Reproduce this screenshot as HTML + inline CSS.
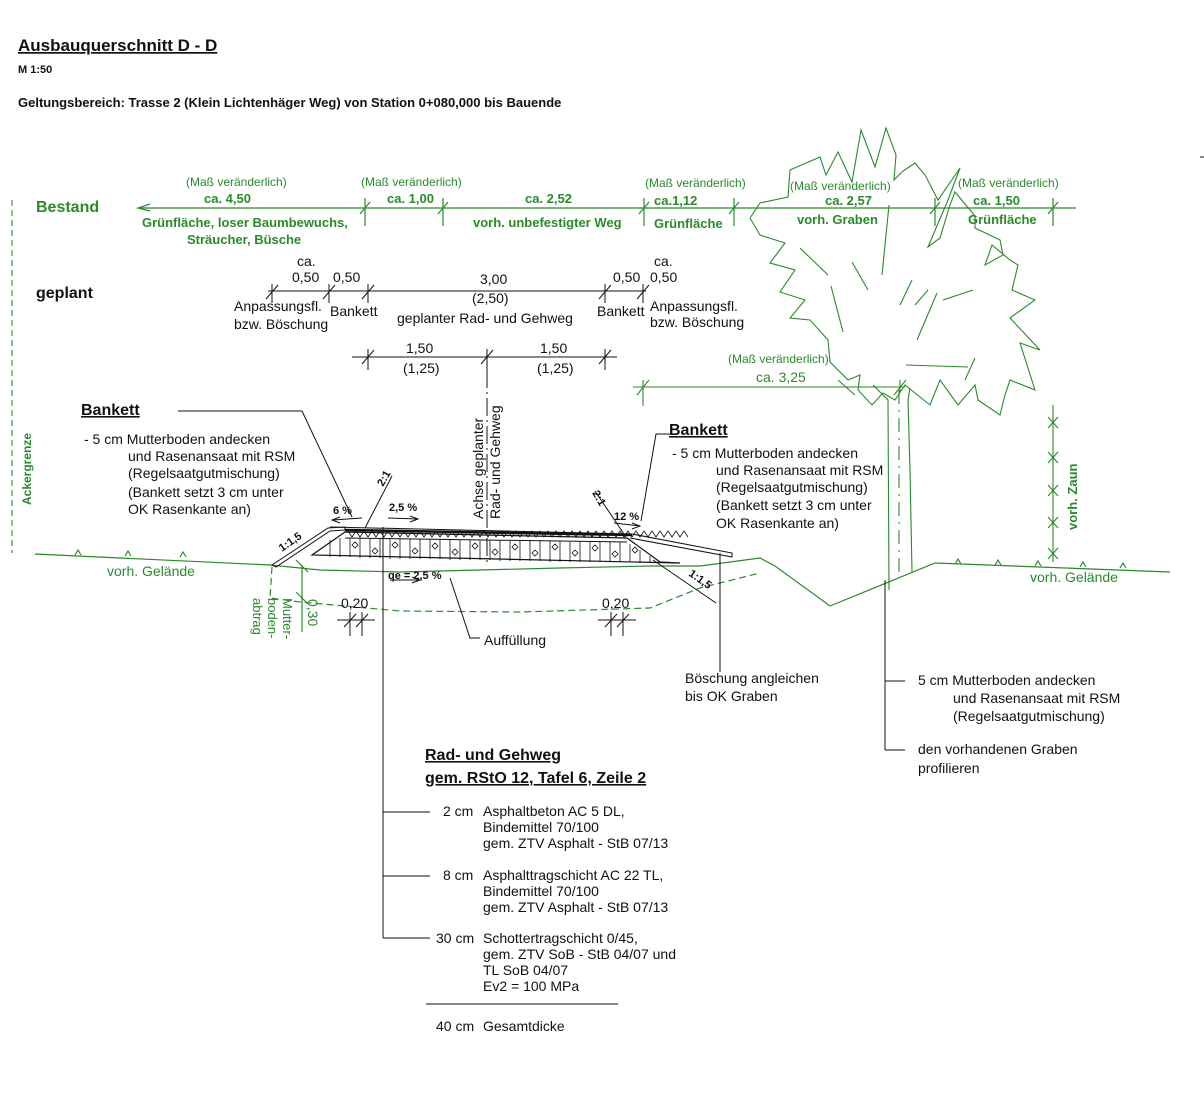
<!DOCTYPE html>
<html><head><meta charset="utf-8"><style>
html,body{margin:0;padding:0;background:#fff;}
svg{display:block;font-family:"Liberation Sans",sans-serif;}
.g{fill:#2a8a2a;}
.k{fill:#111;}
</style></head><body>
<svg width="1204" height="1116" viewBox="0 0 1204 1116" xmlns="http://www.w3.org/2000/svg">
<!-- Header -->
<text x="18" y="51" font-size="17" font-weight="bold" class="k" text-decoration="underline">Ausbauquerschnitt D - D</text>
<text x="18" y="73" font-size="11" font-weight="bold" class="k">M 1:50</text>
<text x="18" y="107" font-size="13" font-weight="bold" class="k">Geltungsbereich: Trasse 2 (Klein Lichtenhäger Weg) von Station 0+080,000 bis Bauende</text>

<!-- Bestand -->
<g stroke="#2a8a2a" stroke-width="1.2" fill="none">
<line x1="138" y1="208" x2="1076" y2="208"/>
<polyline points="150,204 138,208 150,211"/>
<line x1="365" y1="198" x2="365" y2="226"/><line x1="360" y1="214" x2="370" y2="202"/>
<line x1="443" y1="198" x2="443" y2="226"/><line x1="438" y1="214" x2="448" y2="202"/>
<line x1="644" y1="198" x2="644" y2="226"/><line x1="639" y1="214" x2="649" y2="202"/>
<line x1="734" y1="198" x2="734" y2="226"/><line x1="729" y1="214" x2="739" y2="202"/>
<line x1="935" y1="198" x2="935" y2="226"/><line x1="930" y1="214" x2="940" y2="202"/>
<line x1="1053" y1="198" x2="1053" y2="226"/><line x1="1048" y1="214" x2="1058" y2="202"/>
</g>
<text x="36" y="212" font-size="16" font-weight="bold" class="g">Bestand</text>
<g font-size="12" class="g">
<text x="186" y="186">(Maß veränderlich)</text>
<text x="361" y="186">(Maß veränderlich)</text>
<text x="645" y="187">(Maß veränderlich)</text>
<text x="790" y="190">(Maß veränderlich)</text>
<text x="958" y="187">(Maß veränderlich)</text>
</g>
<g font-size="13" font-weight="bold" class="g">
<text x="204" y="203">ca. 4,50</text>
<text x="387" y="203">ca. 1,00</text>
<text x="525" y="203">ca. 2,52</text>
<text x="654" y="205">ca.1,12</text>
<text x="825" y="205">ca. 2,57</text>
<text x="973" y="205">ca. 1,50</text>
<text x="142" y="227">Grünfläche, loser Baumbewuchs,</text>
<text x="187" y="244">Sträucher, Büsche</text>
<text x="473" y="227">vorh. unbefestigter Weg</text>
<text x="654" y="228">Grünfläche</text>
<text x="797" y="224">vorh. Graben</text>
<text x="968" y="224">Grünfläche</text>
</g>

<!-- geplant -->
<text x="36" y="298" font-size="16" font-weight="bold" class="k">geplant</text>
<g stroke="#111" stroke-width="1" fill="none">
<line x1="268" y1="291" x2="646" y2="291"/>
<line x1="272" y1="284" x2="272" y2="303"/><line x1="266" y1="299" x2="278" y2="285"/>
<line x1="329" y1="284" x2="329" y2="303"/><line x1="323" y1="299" x2="335" y2="285"/>
<line x1="368" y1="284" x2="368" y2="303"/><line x1="362" y1="299" x2="374" y2="285"/>
<line x1="605" y1="284" x2="605" y2="303"/><line x1="599" y1="299" x2="611" y2="285"/>
<line x1="643" y1="284" x2="643" y2="303"/><line x1="637" y1="299" x2="649" y2="285"/>
<line x1="352" y1="357" x2="617" y2="357"/>
<line x1="368" y1="349" x2="368" y2="370"/><line x1="362" y1="364" x2="374" y2="350"/>
<line x1="487" y1="349" x2="487" y2="370"/><line x1="481" y1="364" x2="493" y2="350"/>
<line x1="605" y1="349" x2="605" y2="370"/><line x1="599" y1="364" x2="611" y2="350"/>
</g>
<g font-size="14" class="k">
<text x="297" y="266">ca.</text>
<text x="292" y="282">0,50</text><text x="333" y="282">0,50</text>
<text x="480" y="284">3,00</text>
<text x="472" y="303">(2,50)</text>
<text x="234" y="311">Anpassungsfl.</text>
<text x="234" y="329">bzw. Böschung</text>
<text x="330" y="316">Bankett</text>
<text x="397" y="323">geplanter Rad- und Gehweg</text>
<text x="597" y="316">Bankett</text>
<text x="613" y="282">0,50</text><text x="650" y="282">0,50</text>
<text x="654" y="266">ca.</text>
<text x="650" y="311">Anpassungsfl.</text>
<text x="650" y="327">bzw. Böschung</text>
<text x="406" y="353">1,50</text>
<text x="540" y="353">1,50</text>
<text x="403" y="373">(1,25)</text>
<text x="537" y="373">(1,25)</text>
</g>

<!-- Tree -->
<g stroke="#2a8a2a" stroke-width="1.1" fill="none">
<polyline points="750,218 760,203 788,197 790,170 820,157 826,175 838,152 852,182 861,130 875,167 886,128 896,155 894,180 903,171 915,163 925,175 938,200 960,168 948,200 928,247 940,238 950,205 955,192 975,216 975,228 1000,240 1003,255 985,265 992,245 1010,260 1018,265 1012,290 1035,300 1010,318 1040,350 1020,343 1035,390 1010,380 1005,395 1000,415 978,400 975,385 958,405 940,380 930,405 905,385 895,400 883,393 872,405 858,390 860,375 848,380 830,362 828,340 810,320 790,318 805,300 780,292 795,270 770,263 785,243 760,235 750,218"/>
<line x1="800" y1="248" x2="828" y2="275"/><line x1="852" y1="262" x2="868" y2="290"/>
<line x1="889" y1="205" x2="882" y2="275"/><line x1="912" y1="280" x2="900" y2="305"/>
<line x1="928" y1="290" x2="915" y2="305"/><line x1="937" y1="293" x2="917" y2="340"/>
<line x1="906" y1="365" x2="968" y2="367"/><line x1="838" y1="380" x2="855" y2="395"/>
<line x1="831" y1="286" x2="843" y2="332"/><line x1="973" y1="290" x2="943" y2="300"/>
<line x1="965" y1="380" x2="975" y2="358"/>
<polyline points="873,385 888,400 889,590"/>
<polyline points="910,388 908,400 910,470 912,572"/>
<line x1="899" y1="390" x2="899" y2="575" stroke-dasharray="14,6,2,6"/>
<line x1="633" y1="387" x2="905" y2="387"/>
<line x1="643" y1="380" x2="643" y2="406"/><line x1="637" y1="395" x2="649" y2="380"/>
<line x1="900" y1="380" x2="900" y2="392"/><line x1="894" y1="395" x2="906" y2="380"/>
</g>
<text x="728" y="363" font-size="12" class="g">(Maß veränderlich)</text>
<text x="756" y="382" font-size="14" class="g">ca. 3,25</text>

<!-- Ackergrenze -->
<line x1="12" y1="200" x2="12" y2="553" stroke="#2a8a2a" stroke-width="1.1" stroke-dasharray="6,4"/>
<text transform="translate(31,505) rotate(-90)" font-size="12" font-weight="bold" class="g">Ackergrenze</text>

<!-- Zaun -->
<g stroke="#2a8a2a" stroke-width="1.1">
<line x1="1053" y1="405" x2="1053" y2="562"/>
<line x1="1048" y1="417" x2="1058" y2="428"/><line x1="1058" y1="417" x2="1048" y2="428"/>
<line x1="1048" y1="452" x2="1058" y2="463"/><line x1="1058" y1="452" x2="1048" y2="463"/>
<line x1="1048" y1="485" x2="1058" y2="496"/><line x1="1058" y1="485" x2="1048" y2="496"/>
<line x1="1048" y1="517" x2="1058" y2="528"/><line x1="1058" y1="517" x2="1048" y2="528"/>
<line x1="1048" y1="548" x2="1058" y2="559"/><line x1="1058" y1="548" x2="1048" y2="559"/>
</g>
<text transform="translate(1077,530) rotate(-90)" font-size="13" font-weight="bold" class="g">vorh. Zaun</text>

<!-- Ground -->
<g stroke="#2a8a2a" stroke-width="1.2" fill="none">
<polyline points="35,554 270,565 320,570 400,572 480,570 560,568 650,566 700,566 760,558 775,566 830,606 935,563 1170,572"/>
<polyline points="272,567 270,598 300,602 400,611 520,612 650,608 700,588 760,573" stroke-dasharray="7,4"/>
<line x1="302" y1="565" x2="302" y2="632"/>
<line x1="296" y1="560" x2="308" y2="572"/><line x1="296" y1="592" x2="308" y2="604"/>
<path d="M75 555 l3 -5 3 5 M125 556 l3 -5 3 5 M180 557 l3 -5 3 5 M955 564 l3 -5 3 5 M995 565 l3 -5 3 5 M1035 566 l3 -5 3 5 M1080 567 l3 -5 3 5 M1120 568 l3 -5 3 5"/>
</g>
<text x="107" y="576" font-size="14" class="g">vorh. Gelände</text>
<text x="1030" y="582" font-size="14" class="g">vorh. Gelände</text>
<text transform="translate(308,599) rotate(90)" font-size="14" class="g">0,30</text>
<g font-size="13" class="g">
<text transform="translate(283,598) rotate(90)">Mutter-</text>
<text transform="translate(268,598) rotate(90)">boden-</text>
<text transform="translate(253,598) rotate(90)">abtrag</text>
</g>

<!-- Road body -->
<g stroke="#111" fill="none" stroke-width="1">
<polygon points="272,565 328,528 345,527 345,530 330,531 276,567"/>
<polyline points="330,527 632,534 732,553 732,557 630,538"/>
<line x1="345" y1="530" x2="632" y2="535" stroke-width="2.5"/>
<polygon points="312,555 345,532 627,538 660,562 680,563" stroke-width="1.2"/>
<line x1="345" y1="538" x2="627" y2="542"/>
<path d="M348 531 l4 6 4 -6 4 6 4 -6 4 6 4 -6 4 6 4 -6 4 6 4 -6 4 6 4 -6 4 6 4 -6 4 6 4 -6 4 6 4 -6 4 6 4 -6 4 6 4 -6 4 6 4 -6 4 6 4 -6 4 6 4 -6 4 6 4 -6 4 6 4 -6 4 6 4 -6 4 6 4 -6 4 6 4 -6 4 6 4 -6 4 6 4 -6 4 6 4 -6 4 6 4 -6 4 6 4 -6 4 6 4 -6 4 6 4 -6 4 6 4 -6 4 6 4 -6 4 6 4 -6 4 6 4 -6 4 6 4 -6 4 6 4 -6 4 6 4 -6 4 6 4 -6 4 6 4 -6 4 6 4 -6 4 6 4 -6 4 6 4 -6 4 6 4 -6 4 6 4 -6 4 6 4 -6 4 6 4 -6 4 6" stroke-width="0.8"/>
<path d="M330 540v17 M340 538v19 M350 538v19 M360 538v20 M370 538v20 M380 538v20 M390 539v20 M400 539v20 M410 539v20 M420 539v20 M430 539v20 M440 539v20 M450 540v20 M460 540v20 M470 540v20 M480 540v20 M490 540v20 M500 540v21 M510 541v20 M520 541v20 M530 541v20 M540 541v20 M550 541v21 M560 541v21 M570 542v20 M580 542v20 M590 542v20 M600 542v20 M610 542v20 M620 542v20 M630 544v18 M640 550v13 M650 556v7" stroke-width="0.8"/>
<g stroke-width="0.8">
<path d="M352 545l3 -3 3 3 -3 3z M372 551l3 -3 3 3 -3 3z M392 545l3 -3 3 3 -3 3z M412 551l3 -3 3 3 -3 3z M432 546l3 -3 3 3 -3 3z M452 552l3 -3 3 3 -3 3z M472 546l3 -3 3 3 -3 3z M492 552l3 -3 3 3 -3 3z M512 547l3 -3 3 3 -3 3z M532 553l3 -3 3 3 -3 3z M552 547l3 -3 3 3 -3 3z M572 553l3 -3 3 3 -3 3z M592 548l3 -3 3 3 -3 3z M612 554l3 -3 3 3 -3 3z M632 550l3 -3 3 3 -3 3z"/>
</g>
<line x1="487" y1="370" x2="487" y2="565" stroke-dasharray="18,4,2,4"/>
<line x1="365" y1="528" x2="392" y2="476"/>
<line x1="626" y1="537" x2="595" y2="491"/>
<line x1="653" y1="560" x2="716" y2="603"/>
<line x1="333" y1="520" x2="362" y2="518"/><polyline points="340,517 332,520 340,523"/>
<line x1="388" y1="518" x2="418" y2="519"/><polyline points="410,516 418,519 410,522"/>
<line x1="390" y1="580" x2="420" y2="580"/><polyline points="412,577 420,580 412,583"/>
<line x1="614" y1="523" x2="640" y2="526"/><polyline points="632,523 640,526 632,529"/>
<polyline points="178,411 302,411 352,517"/>
<polyline points="670,434 656,434 641,521"/>
<polyline points="450,578 470,638 480,638"/>
<line x1="720" y1="553" x2="720" y2="672"/>
<line x1="885" y1="580" x2="885" y2="750"/>
<line x1="885" y1="681" x2="905" y2="681"/>
<line x1="885" y1="750" x2="905" y2="750"/>
<line x1="337" y1="620" x2="375" y2="620"/>
<line x1="350" y1="612" x2="350" y2="636"/><line x1="344" y1="627" x2="356" y2="614"/>
<line x1="362" y1="612" x2="362" y2="636"/><line x1="356" y1="627" x2="368" y2="614"/>
<line x1="598" y1="620" x2="636" y2="620"/>
<line x1="611" y1="612" x2="611" y2="636"/><line x1="605" y1="627" x2="617" y2="614"/>
<line x1="623" y1="612" x2="623" y2="636"/><line x1="617" y1="627" x2="629" y2="614"/>
<line x1="383" y1="527" x2="383" y2="938"/>
<line x1="383" y1="812" x2="430" y2="812"/>
<line x1="383" y1="876" x2="430" y2="876"/>
<line x1="383" y1="938" x2="430" y2="938"/>
<line x1="426" y1="1004" x2="618" y2="1004"/>
</g>
<g font-size="11" font-weight="bold" class="k">
<text x="333" y="514">6 %</text>
<text x="389" y="511">2,5 %</text>
<text x="614" y="520">12 %</text>
<text x="388" y="579">qe = 2,5 %</text>
<text transform="translate(383,487) rotate(-60)">2:1</text>
<text transform="translate(592,493) rotate(60)">2:1</text>
<text transform="translate(282,552) rotate(-35)">1:1,5</text>
<text transform="translate(688,575) rotate(35)">1:1,5</text>
</g>
<g font-size="14" class="k">
<text transform="translate(483,519) rotate(-90)">Achse geplanter</text>
<text transform="translate(500,519) rotate(-90)">Rad- und Gehweg</text>
<text x="341" y="608">0,20</text>
<text x="602" y="608">0,20</text>
<text x="484" y="645">Auffüllung</text>
<text x="685" y="683">Böschung angleichen</text>
<text x="685" y="701">bis OK Graben</text>
<text x="918" y="685">5 cm Mutterboden andecken</text>
<text x="953" y="703">und Rasenansaat mit RSM</text>
<text x="953" y="721">(Regelsaatgutmischung)</text>
<text x="918" y="754">den vorhandenen Graben</text>
<text x="918" y="773">profilieren</text>
</g>
<text x="81" y="415" font-size="16" font-weight="bold" class="k" text-decoration="underline">Bankett</text>
<g font-size="14" class="k">
<text x="84" y="444">- 5 cm Mutterboden andecken</text>
<text x="128" y="461">und Rasenansaat mit RSM</text>
<text x="128" y="478">(Regelsaatgutmischung)</text>
<text x="128" y="497">(Bankett setzt 3 cm unter</text>
<text x="128" y="514">OK Rasenkante an)</text>
</g>
<text x="669" y="435" font-size="16" font-weight="bold" class="k" text-decoration="underline">Bankett</text>
<g font-size="14" class="k">
<text x="672" y="458">- 5 cm Mutterboden andecken</text>
<text x="716" y="475">und Rasenansaat mit RSM</text>
<text x="716" y="492">(Regelsaatgutmischung)</text>
<text x="716" y="510">(Bankett setzt 3 cm unter</text>
<text x="716" y="528">OK Rasenkante an)</text>
</g>
<text x="425" y="760" font-size="16" font-weight="bold" class="k" text-decoration="underline">Rad- und Gehweg</text>
<text x="425" y="783" font-size="16" font-weight="bold" class="k" text-decoration="underline">gem. RStO 12, Tafel 6, Zeile 2</text>
<g font-size="14" class="k">
<text x="443" y="816">2 cm</text><text x="483" y="816">Asphaltbeton AC 5 DL,</text>
<text x="483" y="832">Bindemittel 70/100</text>
<text x="483" y="848">gem. ZTV Asphalt - StB 07/13</text>
<text x="443" y="880">8 cm</text><text x="483" y="880">Asphalttragschicht AC 22 TL,</text>
<text x="483" y="896">Bindemittel 70/100</text>
<text x="483" y="912">gem. ZTV Asphalt - StB 07/13</text>
<text x="436" y="943">30 cm</text><text x="483" y="943">Schottertragschicht 0/45,</text>
<text x="483" y="959">gem. ZTV SoB - StB 04/07 und</text>
<text x="483" y="975">TL SoB 04/07</text>
<text x="483" y="991">Ev2 = 100 MPa</text>
<text x="436" y="1031">40 cm</text><text x="483" y="1031">Gesamtdicke</text>
</g>
<line x1="1200" y1="157" x2="1204" y2="157" stroke="#111"/>
</svg>
</body></html>
